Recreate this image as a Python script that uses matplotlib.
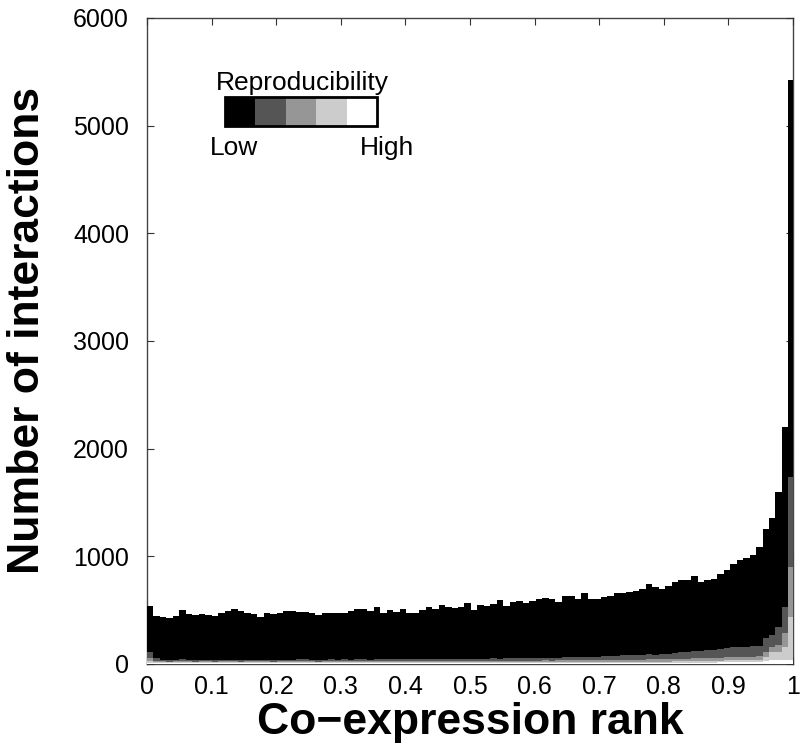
import numpy as np
import matplotlib
matplotlib.use("Agg")
import matplotlib.pyplot as plt
from matplotlib.patches import Rectangle

plt.rcParams['font.family'] = ['Liberation Sans', 'DejaVu Sans']

# ---- data (100 bins of co-expression rank, 0..1) ----
total_counts = [
    540, 444, 438, 423, 444, 497, 463, 458, 463, 454,
    444, 469, 491, 512, 489, 472, 460, 432, 475, 463,
    469, 488, 495, 484, 486, 475, 457, 469, 475, 475,
    472, 488, 510, 509, 491, 534, 472, 506, 484, 509,
    478, 472, 497, 528, 509, 546, 528, 518, 534, 568,
    500, 546, 537, 553, 593, 537, 574, 583, 568, 586,
    602, 617, 605, 574, 636, 630, 605, 655, 605, 605,
    623, 636, 655, 660, 673, 679, 692, 747, 716, 692,
    722, 759, 778, 778, 818, 762, 784, 793, 833, 877,
    932, 963, 982, 1012, 1086, 1256, 1358, 1596, 2200, 5420,
]
# stacked layers from the bottom: highest reproducibility first
high_counts = [
    10, 7, 6, 6, 6, 6, 6, 6, 6, 6,
    6, 6, 6, 6, 6, 6, 6, 6, 6, 6,
    6, 6, 6, 6, 6, 6, 6, 6, 6, 6,
    6, 6, 6, 6, 6, 6, 6, 6, 6, 6,
    6, 6, 6, 6, 6, 6, 6, 6, 6, 6,
    6, 6, 6, 6, 6, 6, 6, 6, 6, 6,
    7, 7, 7, 7, 7, 7, 7, 7, 7, 7,
    8, 8, 8, 8, 8, 8, 8, 8, 8, 8,
    10, 10, 11, 11, 12, 12, 13, 13, 14, 16,
    18, 18, 18, 18, 18, 28, 40, 37, 37, 37,
]
midhigh_counts = [
    15, 10, 8, 8, 8, 9, 8, 8, 8, 8,
    8, 9, 8, 8, 8, 9, 8, 8, 8, 8,
    9, 8, 8, 8, 9, 8, 8, 8, 9, 8,
    8, 9, 8, 8, 9, 8, 9, 8, 9, 8,
    9, 9, 8, 9, 9, 9, 9, 9, 9, 9,
    9, 9, 10, 9, 10, 9, 10, 10, 10, 10,
    10, 10, 10, 11, 10, 11, 11, 11, 11, 11,
    11, 12, 12, 12, 12, 12, 12, 13, 13, 13,
    13, 14, 14, 15, 15, 15, 16, 16, 17, 17,
    18, 18, 19, 19, 20, 40, 74, 77, 123, 400,
]
mid_counts = [
    30, 14, 10, 9, 10, 11, 10, 9, 10, 10,
    9, 10, 11, 10, 9, 10, 10, 11, 10, 9,
    10, 11, 10, 10, 11, 10, 9, 10, 11, 10,
    11, 10, 11, 12, 10, 11, 12, 11, 12, 11,
    12, 11, 12, 13, 12, 12, 13, 12, 13, 13,
    13, 14, 13, 14, 13, 14, 15, 14, 15, 15,
    15, 16, 15, 16, 17, 16, 17, 18, 17, 18,
    19, 18, 19, 20, 20, 21, 21, 22, 22, 23,
    23, 24, 25, 25, 26, 26, 27, 28, 29, 30,
    30, 31, 31, 32, 33, 46, 46, 62, 124, 463,
]
midlow_counts = [
    55, 25, 16, 14, 15, 18, 14, 16, 15, 13,
    14, 16, 15, 17, 14, 13, 15, 16, 14, 15,
    16, 15, 17, 18, 16, 15, 14, 16, 17, 16,
    17, 16, 18, 17, 16, 19, 17, 18, 17, 19,
    18, 17, 19, 20, 18, 21, 19, 20, 22, 21,
    20, 22, 21, 23, 22, 24, 22, 25, 24, 26,
    25, 27, 28, 26, 29, 30, 28, 32, 30, 33,
    34, 36, 38, 40, 42, 41, 44, 46, 45, 48,
    50, 55, 60, 62, 66, 68, 72, 76, 82, 88,
    90, 92, 94, 95, 100, 124, 109, 169, 247, 833,
]
x_ticks = [0, 0.1, 0.2, 0.3, 0.4, 0.5, 0.6, 0.7, 0.8, 0.9, 1]
x_tick_labels = ['0', '0.1', '0.2', '0.3', '0.4', '0.5', '0.6', '0.7', '0.8', '0.9', '1']
y_ticks = [0, 1000, 2000, 3000, 4000, 5000, 6000]

layer_colors = ['#ffffff', '#cccccc', '#969696', '#555555', '#000000']

# ---- derived ----
n_bins = len(total_counts)
edges = np.linspace(0, 1.003, n_bins + 1)
lefts = edges[:-1]
width = edges[1] - edges[0]
lower = [np.array(high_counts), np.array(midhigh_counts),
         np.array(mid_counts), np.array(midlow_counts)]
low_counts = np.array(total_counts) - sum(lower)
layers = lower + [low_counts]

fig = plt.figure(figsize=(8.09, 7.56), dpi=100)
ax = fig.add_axes([0.1817, 0.1217, 0.7985, 0.8545])

bottom = np.zeros(n_bins)
for vals, col in zip(layers, layer_colors):
    ax.bar(lefts, vals, width=width, bottom=bottom, align='edge',
           color=col, edgecolor='none', linewidth=0, zorder=2)
    bottom = bottom + vals

ax.set_xlim(0, 1)
ax.set_ylim(0, 6000)
ax.set_xticks(x_ticks)
ax.set_xticklabels(x_tick_labels)
ax.set_yticks(y_ticks)
ax.tick_params(axis='both', direction='in', length=5, width=0.8,
               labelsize=18, top=True, right=True, color='#333333')
ax.tick_params(axis='y', pad=13)
ax.tick_params(axis='x', pad=8)
for s in ax.spines.values():
    s.set_color('#444444')
    s.set_linewidth(1.0)
    s.set_zorder(1)

ax.set_xlabel('Co\u2212expression rank', fontsize=32, fontweight='bold', labelpad=2)
ax.set_ylabel('Number of interactions', fontsize=32, fontweight='bold', labelpad=18)
ax.yaxis.label.set_y(0.517)

# ---- reproducibility key ----
key_x0, key_x1 = 0.1207, 0.356
key_y0, key_y1 = 0.833, 0.878
cw = (key_x1 - key_x0) / 5
for i, col in enumerate(['#000000', '#555555', '#969696', '#cccccc', '#ffffff']):
    ax.add_patch(Rectangle((key_x0 + i * cw, key_y0), cw, key_y1 - key_y0,
                           transform=ax.transAxes, facecolor=col,
                           edgecolor='none', zorder=5))
ax.add_patch(Rectangle((key_x0, key_y0), key_x1 - key_x0, key_y1 - key_y0,
                       transform=ax.transAxes, facecolor='none',
                       edgecolor='black', linewidth=2, zorder=6))
ax.text(0.2405, 0.899, 'Reproducibility', transform=ax.transAxes,
        ha='center', va='center', fontsize=19, zorder=6)
ax.text(0.098, 0.798, 'Low', transform=ax.transAxes, ha='left', va='center',
        fontsize=19, zorder=6)
ax.text(0.330, 0.798, 'High', transform=ax.transAxes, ha='left', va='center',
        fontsize=19, zorder=6)

fig.savefig('out.png', dpi=100)
